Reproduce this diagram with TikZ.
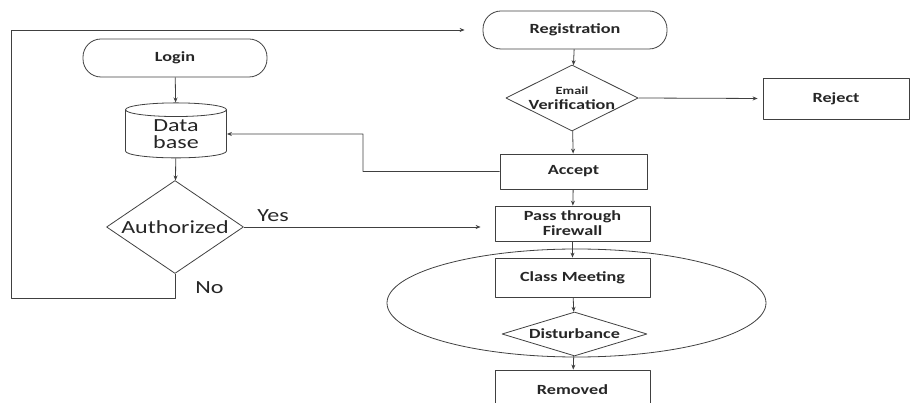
\documentclass[tikz,border=0pt]{standalone}
\usepackage{fontspec}
\setmainfont{Carlito}[FakeStretch=1.3]
\usetikzlibrary{shapes.geometric,arrows.meta}
\begin{document}
\begin{tikzpicture}[x=1pt,y=-1pt,>={Stealth[length=5pt,width=4pt]},line join=round,
	color=black!75,line width=0.8pt,
	lab/.style={text=black!85,font=\fontsize{14}{15}\bfseries\selectfont,align=center,inner sep=0pt},
	big/.style={text=black!85,font=\fontsize{18.5}{20}\selectfont,align=center,inner sep=0pt},
	terminal/.style={lab,draw,rounded corners=18pt,minimum width=184pt,minimum height=38pt},
	proc/.style={lab,draw,minimum width=155pt,minimum height=35pt},
	decision/.style={draw,diamond,inner sep=0pt}]
	\useasboundingbox (0,0) rectangle (911,403);
	% left column
	\node[terminal] (login) at (175,58) {Login};
	\node[big,draw,cylinder,shape border rotate=90,aspect=0.3,minimum width=101pt,minimum height=55pt] (db) at (176,134) {Data\\[-3pt]base};
	\node[big,decision,aspect=1.47,minimum width=137pt,minimum height=93pt] (auth) at (175,227) {Authorized};
	\coordinate (loopx) at (11,298);
	\coordinate (back) at (363,134);
	% right column
	\node[terminal] (reg) at (575,30) {Registration};
	\node[lab,decision,aspect=2,minimum width=129pt,minimum height=65pt] (email) at (572,98) {{\fontsize{11}{11}\bfseries\selectfont Email}\\Verification};
	\node[proc,minimum width=146pt,minimum height=41pt] (reject) at (836,98.5) {Reject};
	\node[proc,minimum width=147pt] (accept) at (573.5,171.5) {Accept};
	\node[proc] (firewall) at (572.5,223.5) {Pass through\\Firewall};
	\node[proc,minimum height=39pt] (class) at (572.5,277.5) {Class Meeting};
	\node[lab,decision,aspect=3.3,minimum width=145pt,minimum height=44pt] (disturb) at (574.5,334) {Disturbance};
	\node[proc,minimum height=40pt] (removed) at (572.5,390) {Removed};
	\draw (576.5,303) ellipse [x radius=189.5,y radius=54];
	% connectors
	\draw[->] (login) -- (db);
	\draw[->] (db) -- (auth);
	\draw[->,shorten >=14pt] (auth.east) -- (auth.east -| firewall.west);
	\draw[->,shorten >=18pt] (auth.south) |- (loopx) |- (reg.west);
	\draw[->] (reg) -- (email);
	\draw[->,shorten >=5pt] (email.east) -- (reject.west);
	\draw[->] (email) -- (accept);
	\draw[->] (accept.west) -| (back) -- (db.east);
	\draw[->] (accept) -- (firewall);
	\draw[->] (firewall) -- (class);
	\draw[->] (class) -- (disturb);
	\draw[->] (disturb) -- (removed);
	\node[big,anchor=base west] (yes) at (257,222) {Yes};
	\node[big,anchor=base west] (no) at (195,294) {No};
\end{tikzpicture}
\end{document}
